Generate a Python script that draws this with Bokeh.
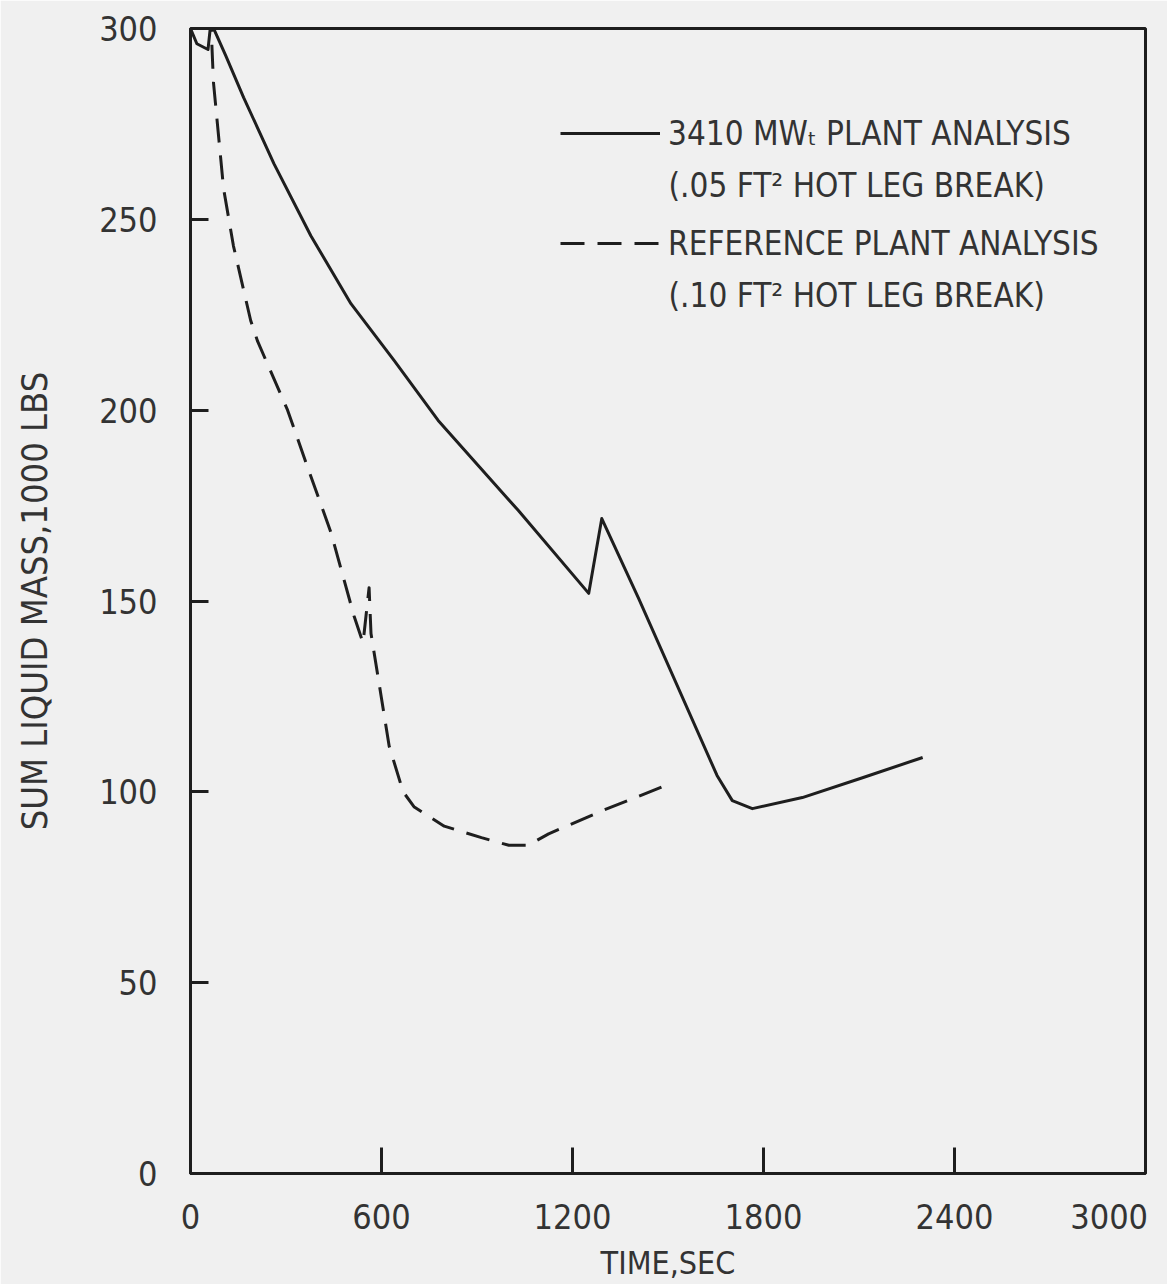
from bokeh.plotting import figure
from bokeh.models import Range1d, FixedTicker, Legend, LegendItem, Label
from bokeh.embed import file_html
from bokeh.resources import INLINE

# ---- data (time in s, mass in 1000 lbs) ----
solid_t = [0, 20, 55, 62, 76, 110, 167, 262, 378, 504, 640, 778, 1030,
           1251, 1292, 1408, 1654, 1702, 1765, 1922, 2111, 2300]
solid_m = [300, 296, 294.5, 300, 299.4, 293, 281.9, 264.6, 245.7, 227.9, 213.0,
           197.3, 173.7, 152.0, 171.6, 150.6, 104.3, 97.7, 95.6, 98.5,
           103.7, 109.0]

dash_t = [0, 65, 72, 104, 135, 189, 211, 305, 368, 441, 514, 542, 561, 567,
          599, 624, 668, 703, 797, 914, 1000, 1060, 1125, 1292, 1503]
dash_m = [300, 300, 286, 258, 243, 223.5, 218, 200, 185, 168, 146, 139, 153.5,
          141.5, 125, 112, 100, 96, 91, 88, 86, 86, 89, 95, 102]

x_ticks = [0, 600, 1200, 1800, 2400, 3000]
y_ticks = [0, 50, 100, 150, 200, 250, 300]

legend_line1 = ["3410 MW\u209c PLANT ANALYSIS", "REFERENCE PLANT ANALYSIS"]
legend_line2 = ["(.05 FT\u00b2 HOT LEG BREAK)", "(.10 FT\u00b2 HOT LEG BREAK)"]

FONT = "DejaVu Sans Condensed, Liberation Sans Narrow, sans-serif"
INK = "#1e1e1e"
TXT = "#333333"
BG = "#f0f0f0"

p = figure(frame_width=955, frame_height=1145,
           min_border_left=190, min_border_top=28, min_border_right=22,
           min_border_bottom=100,
           x_range=Range1d(0, 3000), y_range=Range1d(0, 300),
           output_backend="svg", toolbar_location=None)

p.background_fill_color = BG
p.border_fill_color = BG
p.outline_line_color = INK
p.outline_line_width = 3
p.xgrid.visible = False
p.ygrid.visible = False

for ax in (p.xaxis[0], p.yaxis[0]):
    ax.axis_line_color = INK
    ax.axis_line_width = 3
    ax.major_tick_line_color = INK
    ax.major_tick_line_width = 3
    ax.major_tick_out = 0
    ax.minor_tick_line_color = None
    ax.major_label_text_font = FONT
    ax.major_label_text_font_size = "34px"
    ax.major_label_text_color = TXT
    ax.axis_label_text_font = FONT
    ax.axis_label_text_font_style = "normal"
    ax.axis_label_text_color = TXT

p.xaxis.axis_label_text_font_size = "32px"
p.yaxis.axis_label_text_font_size = "36px"
p.xaxis.ticker = FixedTicker(ticks=x_ticks)
p.yaxis.ticker = FixedTicker(ticks=y_ticks)
p.xaxis.major_tick_in = 26
p.yaxis.major_tick_in = 18
p.xaxis.major_label_standoff = 23
p.yaxis.major_label_standoff = 33
p.xaxis.axis_label = "TIME,SEC"
p.yaxis.axis_label = "SUM LIQUID MASS,1000 LBS"
p.xaxis.axis_label_standoff = 4
p.yaxis.axis_label_standoff = 41
# last label padded on the right with no-break spaces so its digits stay inside the canvas
p.xaxis.major_label_overrides = {x_ticks[-1]: str(x_ticks[-1]) + "\u00a0" * 2}

solid_r = p.line(solid_t, solid_m, line_color=INK, line_width=3, line_join="round")
dash_r = p.line(dash_t, dash_m, line_color=INK, line_width=3, line_dash="24 13",
                line_join="round")

legend = Legend(items=[LegendItem(label=legend_line1[0], renderers=[solid_r]),
                       LegendItem(label=legend_line1[1], renderers=[dash_r])],
                location=(370, 910), orientation="vertical",
                glyph_width=100, glyph_height=40, label_height=40,
                spacing=70, padding=0, margin=0, label_standoff=8,
                border_line_alpha=0, background_fill_alpha=0,
                label_text_font=FONT, label_text_font_size="33px",
                label_text_color=TXT)
p.add_layout(legend)

for txt, ys in zip(legend_line2, [988, 878]):
    p.add_layout(Label(x=478, y=ys, x_units="screen", y_units="screen", text=txt,
                       text_baseline="middle", text_font=FONT, text_font_size="33px",
                       text_color=TXT))

open("out.html", "w").write(file_html(p, INLINE))
